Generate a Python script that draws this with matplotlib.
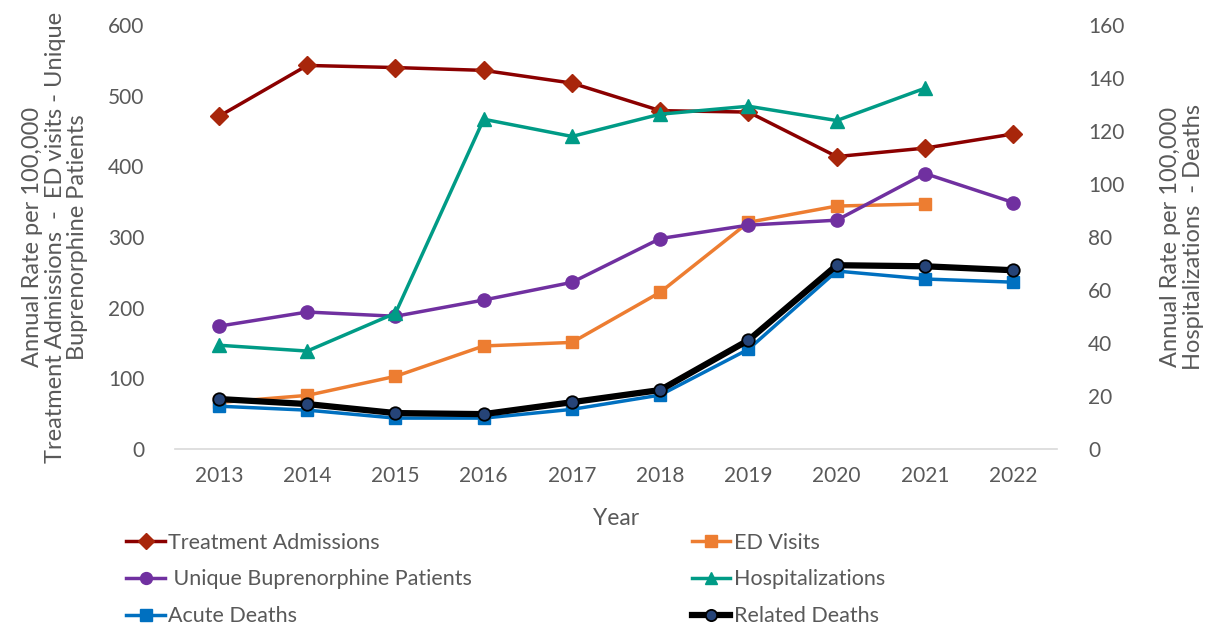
#!/usr/bin/env python3

import matplotlib
matplotlib.use("Agg")
import matplotlib.pyplot as plt

plt.rcParams['font.family'] = ['Lato', 'DejaVu Sans']

### data ###

years = [2013, 2014, 2015, 2016, 2017, 2018, 2019, 2020, 2021, 2022]

# left axis
treatment_admissions = [471, 543, 540, 536, 518, 479, 477, 414, 426, 446]
ed_visits = [66, 76, 103, 146, 151, 222, 321, 344, 347, None]
bup_patients = [174, 194, 188, 211, 236, 298, 317, 324, 390, 349]

# right axis
hospitalizations = [39.2, 37.0, 51.3, 124.5, 118.0, 126.4, 129.4, 124.0, 136.2, None]
acute_deaths = [16.2, 14.7, 11.7, 11.7, 15.0, 20.4, 37.7, 67.2, 64.2, 63.0]
related_deaths = [18.9, 17.0, 13.6, 13.2, 17.7, 22.3, 41.1, 69.4, 69.0, 67.5]

left_ticks = [0, 100, 200, 300, 400, 500, 600]
right_ticks = [0, 20, 40, 60, 80, 100, 120, 140, 160]

### plot ###

gray = '#595959'

def xy(vals):
    xs = [y for y, v in zip(years, vals) if v is not None]
    vs = [v for v in vals if v is not None]
    return xs, vs

fig = plt.figure(figsize=(12.14, 6.29), dpi=100)
ax = fig.add_axes([0.144, 0.286, 0.727, 0.674])
ax2 = ax.twinx()

h1, = ax.plot(*xy(treatment_admissions), color='#8B0000', lw=2.5, marker='D', ms=9,
              mfc='#A8260B', mec='#A8260B', label='Treatment Admissions')
h2, = ax.plot(*xy(ed_visits), color='#ED7D31', lw=2.5, marker='s', ms=9,
              mfc='#ED7D31', mec='#ED7D31', label='ED Visits')
h3, = ax.plot(*xy(bup_patients), color='#7030A0', lw=2.5, marker='o', ms=9.5,
              mfc='#7030A0', mec='#7030A0', label=' Unique Buprenorphine Patients')

h4, = ax2.plot(*xy(hospitalizations), color='#009B86', lw=2.5, marker='^', ms=10,
               mfc='#009B86', mec='#009B86', label='Hospitalizations')
h5, = ax2.plot(*xy(acute_deaths), color='#0070C0', lw=2.5, marker='s', ms=9,
               mfc='#0070C0', mec='#0070C0', label='Acute Deaths')
h6, = ax2.plot(*xy(related_deaths), color='black', lw=4.5, marker='o', ms=9,
               mfc='#264478', mec='black', mew=1.3, label='Related Deaths')

ax.set_xlim(2012.5, 2022.5)
ax.set_ylim(0, 600)
ax2.set_ylim(0, 160)
ax.set_xticks(years)
ax.set_yticks(left_ticks)
ax2.set_yticks(right_ticks)

for a in (ax, ax2):
    for s in a.spines.values():
        s.set_visible(False)
    a.tick_params(length=0, labelsize=15, colors=gray)
ax.spines['bottom'].set_visible(True)
ax.spines['bottom'].set_color('#D9D9D9')
ax.spines['bottom'].set_linewidth(1.2)
ax.tick_params(axis='x', pad=12)
ax.tick_params(axis='y', pad=22)
ax2.tick_params(axis='y', pad=22)

ax.set_xlabel('Year', fontsize=16.5, color=gray, labelpad=16)
ax.set_ylabel('Annual Rate per 100,000\nTreatment Admissions  -  ED visits - Unique\nBuprenorphine Patients',
              fontsize=17, color=gray, labelpad=14, linespacing=1.1)
ax2.set_ylabel('Annual Rate per 100,000\nHospitalizations  - Deaths',
               fontsize=17, color=gray, labelpad=26, linespacing=1.1)

# legend fills by column, so order handles to read row by row
hs = [h1, h3, h5, h2, h4, h6]
fig.legend(hs, [h.get_label() for h in hs],
           loc='upper left', bbox_to_anchor=(0.088, 0.184), ncol=2, frameon=False,
           fontsize=15.5, labelcolor=gray, handlelength=1.8, handletextpad=0.15,
           columnspacing=10.2, labelspacing=0.78, markerscale=0.9)

fig.savefig('out.png', dpi=100)
